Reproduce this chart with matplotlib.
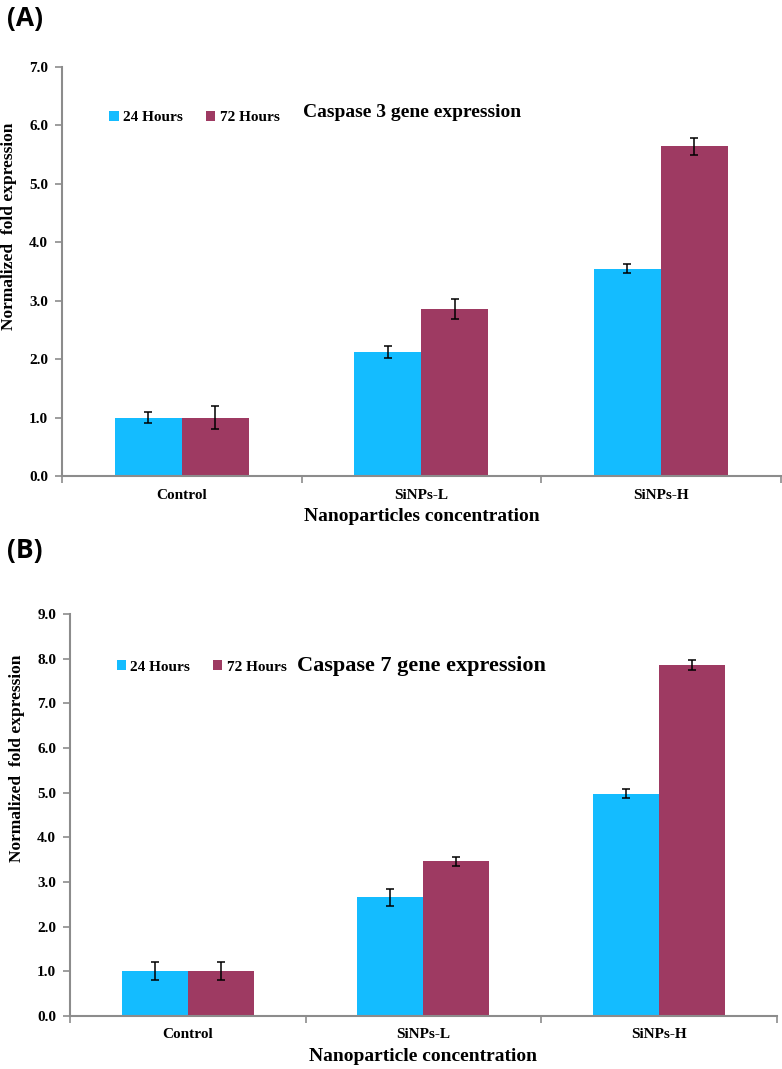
import matplotlib
matplotlib.use("Agg")
import matplotlib.pyplot as plt
import numpy as np

categories = ["Control", "SiNPs-L", "SiNPs-H"]
series_names = ["24 Hours", "72 Hours"]

casp3_24 = [1.00, 2.12, 3.55]
casp3_24_err = [0.10, 0.10, 0.08]
casp3_72 = [1.00, 2.86, 5.64]
casp3_72_err = [0.20, 0.17, 0.15]

casp7_24 = [1.00, 2.66, 4.98]
casp7_24_err = [0.20, 0.19, 0.10]
casp7_72 = [1.00, 3.46, 7.85]
casp7_72_err = [0.20, 0.10, 0.11]

C24 = "#14bcff"
C72 = "#9e3a62"
SERIF = "Liberation Serif"
GRAY = "#8c8c8c"


def panel(ax, v24, e24, v72, e72, ymax, title, title_size, xlabel,
          leg_y, title_x, title_y, ylab_y):
    x = np.arange(len(categories))
    w = 0.28
    ax.bar(x - w / 2, v24, w, color=C24, label=series_names[0])
    ax.bar(x + w / 2, v72, w, color=C72, label=series_names[1])
    ax.errorbar(x - w / 2, v24, yerr=e24, fmt="none", ecolor="black",
                elinewidth=1.1, capsize=2.7, capthick=1.1)
    ax.errorbar(x + w / 2, v72, yerr=e72, fmt="none", ecolor="black",
                elinewidth=1.1, capsize=2.7, capthick=1.1)
    ax.set_xlim(-0.5, 2.5)
    ax.set_ylim(0, ymax)
    yt = np.arange(0, ymax + 0.01, 1.0)
    ax.set_yticks(yt)
    ax.set_yticklabels([f"{t:.1f}" for t in yt],
                       family=SERIF, fontweight="bold", fontsize=11)
    ax.set_xticks(x)
    ax.set_xticklabels(categories, family=SERIF, fontweight="bold", fontsize=11)
    ax.set_xticks([-0.5, 0.5, 1.5, 2.5], minor=True)
    ax.tick_params(axis="x", which="major", length=0, pad=9)
    ax.tick_params(axis="x", which="minor", length=5, color=GRAY, width=1.2)
    ax.tick_params(axis="y", length=5, color=GRAY, width=1.2, pad=5)
    for s in ["top", "right"]:
        ax.spines[s].set_visible(False)
    for s in ["left", "bottom"]:
        ax.spines[s].set_color(GRAY)
        ax.spines[s].set_linewidth(1.5)
    ax.set_xlabel(xlabel, family=SERIF, fontweight="bold", fontsize=14, labelpad=5)
    ax.set_ylabel("Normalized  fold expression", family=SERIF, fontweight="bold",
                  fontsize=12.5)
    ax.yaxis.set_label_coords(-0.063, ylab_y)
    ax.legend(loc="center left", bbox_to_anchor=(0.066, leg_y), ncol=2, frameon=False,
              borderpad=0, borderaxespad=0,
              handlelength=0.6, handleheight=0.6, handletextpad=0.3, columnspacing=1.5,
              prop={"family": SERIF, "weight": "bold", "size": 11})
    ax.text(title_x, title_y, title, transform=ax.transAxes, ha="left", va="center",
            family=SERIF, fontweight="bold", fontsize=title_size)


fig = plt.figure(figsize=(7.82, 10.69), dpi=100)
ax1 = fig.add_axes([0.0793, 0.5547, 0.919, 0.3826])
ax2 = fig.add_axes([0.0895, 0.0496, 0.904, 0.376])

panel(ax1, casp3_24, casp3_24_err, casp3_72, casp3_72_err, 7.0,
      "Caspase 3 gene expression", 14, "Nanoparticles concentration",
      0.876, 0.336, 0.888, 0.61)
panel(ax2, casp7_24, casp7_24_err, casp7_72, casp7_72_err, 9.0,
      "Caspase 7 gene expression", 16, "Nanoparticle concentration",
      0.868, 0.321, 0.871, 0.64)

fig.text(0.009, 0.983, "(A)", fontsize=19, fontweight="bold", family="Open Sans",
         ha="left", va="center")
fig.text(0.009, 0.485, "(B)", fontsize=19, fontweight="bold", family="Open Sans",
         ha="left", va="center")

fig.savefig("out.png", dpi=100)
